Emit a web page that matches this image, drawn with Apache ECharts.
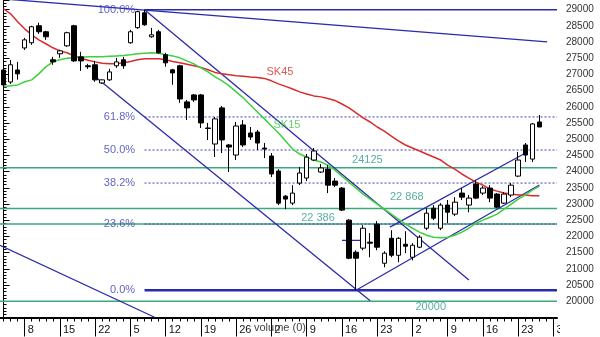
<!DOCTYPE html>
<html><head><meta charset="utf-8">
<script src="https://cdn.jsdelivr.net/npm/echarts@6/dist/echarts.min.js"></script>
<style>html,body{margin:0;padding:0;background:#fff}#c{width:600px;height:337px}</style>
</head><body><div id="c"></div>
<script>
// ---------- data ----------
const dates = [
 '2008-12-03','2008-12-04','2008-12-05',
 '2008-12-08','2008-12-09','2008-12-10','2008-12-11','2008-12-12',
 '2008-12-15','2008-12-16','2008-12-17','2008-12-18','2008-12-19',
 '2008-12-22','2008-12-23','2008-12-29','2008-12-30','2009-01-02',
 '2009-01-05','2009-01-06','2009-01-07','2009-01-08','2009-01-09',
 '2009-01-12','2009-01-13','2009-01-14','2009-01-15','2009-01-16',
 '2009-01-19','2009-01-20','2009-01-21','2009-01-22','2009-01-23',
 '2009-01-26','2009-01-27','2009-01-28','2009-01-29','2009-01-30',
 '2009-02-02','2009-02-03','2009-02-04','2009-02-05','2009-02-06',
 '2009-02-09','2009-02-10','2009-02-11','2009-02-12','2009-02-13',
 '2009-02-16','2009-02-17','2009-02-18','2009-02-19','2009-02-20',
 '2009-02-23','2009-02-24','2009-02-25','2009-02-26','2009-02-27',
 '2009-03-02','2009-03-03','2009-03-04','2009-03-05','2009-03-06',
 '2009-03-09','2009-03-10','2009-03-11','2009-03-12','2009-03-13',
 '2009-03-16','2009-03-17','2009-03-18','2009-03-19','2009-03-20',
 '2009-03-23','2009-03-24','2009-03-25','2009-03-26','2009-03-27',
 '2009-03-30'
];
const opens = [27140,26770,27140,27820,27980,28505,28320,27455,27640,27885,
 28505,27545,27270,27300,26740,26835,27270,27455,27980,28445,
 28905,28165,28320,27610,27145,27270,26155,26370,26370,25350,
 24855,25970,24825,24515,25445,25195,25225,24730,24485,24020,
 23245,23030,23650,23805,24360,23990,24080,23710,23495,22505,
 21515,21640,21825,22380,21175,21945,21420,21760,21360,21670,
 22255,22875,22255,22970,22690,23340,22970,23620,23340,23495,
 23310,23030,23280,23865,24825,24390,25535];
const closes = [26680,27300,27020,28070,28475,28320,28165,27390,27730,28290,
 27420,27420,27240,26835,26835,27080,27390,27270,28320,28940,
 28535,28225,27670,27360,27050,26245,25970,26215,25505,25335,
 25630,24980,24760,25410,24825,25070,24885,24700,23930,23030,
 23155,23340,23960,24450,24640,24115,23585,23585,22815,21330,
 21330,22255,21795,21670,21485,21420,21945,21700,21730,21980,
 22720,22565,22970,22750,23060,23215,23185,23185,23495,23185,
 22905,23310,23585,24360,24515,25475,25380];
const lows = [26590,26710,26840,27760,27915,28255,28070,27300,27515,27855,
 27390,27110,27175,26775,26710,26805,27205,27175,27950,28410,
 28505,28135,27640,27240,26680,26125,25595,26155,25350,24980,
 24455,24575,23990,24360,24760,24980,24670,24420,23835,22970,
 22845,22970,23590,23710,24330,23960,23340,23525,22785,21300,
 20340,21575,21360,21575,21050,21360,21205,21485,21265,21640,
 22195,22505,22195,22410,22630,23125,22750,23155,23280,23060,
 22875,23000,23215,23835,24300,24300,25380];
const highs = [27200,27450,27390,28130,28505,28600,28350,27545,27765,28320,
 28535,27700,27330,27420,26850,27175,27515,27545,28380,28970,
 29000,28440,28380,27670,27175,27300,26215,26400,26400,25505,
 25690,26030,24855,25535,25595,25380,25290,24885,24575,24080,
 23280,23585,24145,24545,24730,24235,24205,23805,23525,22535,
 21575,22350,22105,22475,21545,22195,21980,22165,21795,22040,
 22875,22970,23030,23125,23215,23495,23280,23740,23555,23585,
 23340,23370,23650,24610,24885,25505,25750];
const sk15 = [26620,26650,26680,26775,26835,27020,27235,27390,27455,27500,
 27515,27530,27545,27545,27545,27560,27575,27590,27610,27640,
 27655,27670,27655,27610,27575,27515,27420,27330,27205,27080,
 26925,26805,26650,26465,26280,26060,25845,25630,25410,25195,
 24950,24700,24545,24455,24360,24300,24205,24050,23865,23680,
 23495,23310,23155,23000,22845,22690,22535,22380,22255,22135,
 22040,21980,21965,21980,22040,22135,22255,22410,22505,22595,
 22690,22845,23000,23155,23280,23430,23555];
const sk45 = [29030,28875,28630,28410,28225,28070,27950,27825,27730,27670,
 27575,27500,27440,27390,27345,27330,27330,27360,27405,27455,
 27485,27485,27485,27455,27405,27360,27315,27270,27220,27145,
 27065,27020,26990,26960,26945,26925,26910,26880,26805,26710,
 26635,26555,26465,26400,26340,26310,26260,26200,26090,25970,
 25815,25660,25535,25380,25255,25100,24950,24825,24730,24640,
 24545,24455,24360,24205,24080,23930,23805,23680,23585,23465,
 23400,23340,23310,23280,23280,23260,23260];
// Fibonacci retracement levels (value) and names
const fibLevels = [29000, 25690, 24670, 23650, 22385, 20340];
const fibNames  = ['100.0%','61.8%','50.0%','38.2%','23.6%','0.0%'];
const fibStartIndex = 20;
// horizontal support/resistance levels
const levelValues = [24125, 22868, 22386, 20000];
const levelNames  = ['24125','22 868','22 386','20000'];
// trend lines: [[index, value], [index, value]]
const trendLines = [
 [[-0.5, 29340], [77.1, 28010]],
 [[20, 29000], [66, 20656]],
 [[13, 26930], [52, 20015]],
 [[-0.5, 21730], [21.5, 19500]],
 [[50, 20340], [76, 23590]],
 [[54.8, 22290], [74.3, 24610]],
 [[48, 21880], [51, 21880]]
];
const yTicks = {min: 19500, max: 29300, step: 500};

// ---------- chart ----------
const FONT = '"Liberation Sans", Arial, sans-serif';
const LAST = dates.length - 0.5;
const BLUE = '#2a2aad';
const GREEN_LVL = '#3da87e';
const weekTick = (i) => i >= 3 && (i - 3) % 5 === 0;
const candleData = opens.map((o, i) => [o, closes[i], lows[i], highs[i]]);

function seg(pts, style, z) {
  return {type: 'line', xAxisIndex: 2, yAxisIndex: 0, data: pts, symbol: 'none',
          silent: true, animation: false, lineStyle: style, z: z || 2, clip: true};
}
const series = [];
levelValues.forEach(v => series.push(seg([[-0.5, v], [LAST, v]], {color: GREEN_LVL, width: 1.5}, 1)));
fibLevels.forEach((v, k) => {
  let st;
  if (k === 0) st = {color: BLUE, width: 1.5};
  else if (k === fibLevels.length - 1) st = {color: BLUE, width: 2.5};
  else st = {color: '#3c3cbc', width: 1, type: [2, 2]};
  series.push(seg([[fibStartIndex, v], [LAST, v]], st, 2));
});
trendLines.forEach(p => series.push(seg(p, {color: BLUE, width: 1.3}, 3)));
series.push({type: 'line', xAxisIndex: 0, data: sk45, symbol: 'none', silent: true,
  lineStyle: {color: '#d92b2b', width: 1.5}, z: 4});
series.push({type: 'line', xAxisIndex: 0, data: sk15, symbol: 'none', silent: true,
  lineStyle: {color: '#3fd03f', width: 1.5}, z: 4});
series.push({type: 'candlestick', xAxisIndex: 0, data: candleData, barWidth: 5, z: 6,
  itemStyle: {color: '#fff', color0: '#000', borderColor: '#000', borderColor0: '#000', borderWidth: 1}});

// text labels anchored in data space
const lbl = (x, y, text, color, position, distance) => ({
  value: [x, y],
  label: {show: true, formatter: text, color: color, position: position, distance: distance,
          fontSize: 11, fontFamily: FONT}
});
const labelData = [];
fibLevels.forEach((v, k) => labelData.push(lbl(fibStartIndex, v, fibNames[k], '#3a3ab4', 'left', 9)));
const lvlPos = [[51.6, 'top', 2], [57.2, 'top', 5], [44.6, 'top', 0], [60.6, 'bottom', 0]];
levelValues.forEach((v, k) => labelData.push(lbl(lvlPos[k][0], v, levelNames[k], '#2f9a88', lvlPos[k][1], lvlPos[k][2])));
labelData.push(lbl(39.2, 27080, 'SK45', '#d92b2b', 'inside', 0));
labelData.push(lbl(40.2, 25440, 'SK15', '#3fc43f', 'inside', 0));
series.push({type: 'scatter', xAxisIndex: 2, data: labelData, symbol: 'circle', symbolSize: 1,
  itemStyle: {color: 'rgba(0,0,0,0)'}, silent: true, z: 8});

const chart = echarts.init(document.getElementById('c'));
chart.setOption({
  animation: false,
  backgroundColor: '#fff',
  grid: {left: 0, right: 43, top: 0, bottom: 19.5},
  xAxis: [
    {type: 'category', data: dates, boundaryGap: true, position: 'bottom',
     axisLine: {show: false},
     axisTick: {show: true, alignWithLabel: true, interval: weekTick, length: 19, lineStyle: {color: '#000'}},
     axisLabel: {show: true, interval: weekTick, formatter: v => String(+v.slice(8)), align: 'left',
                 padding: [0, 0, 0, 3], margin: 7, color: '#111', fontSize: 11, fontFamily: FONT},
     splitLine: {show: false}},
    {type: 'category', data: dates, boundaryGap: true, position: 'bottom',
     axisLine: {show: true, lineStyle: {color: '#000', width: 2}},
     axisTick: {show: true, alignWithLabel: true, interval: 0, length: 4, lineStyle: {color: '#000'}},
     axisLabel: {show: false}, splitLine: {show: false}},
    {type: 'value', min: -0.5, max: LAST, show: false}
  ],
  yAxis: {type: 'value', position: 'right', min: yTicks.min, max: yTicks.max, interval: yTicks.step,
    axisLine: {show: true, lineStyle: {color: '#000', width: 1}},
    axisTick: {show: true, length: 6, lineStyle: {color: '#000'}},
    minorTick: {show: true, splitNumber: 5, length: 3, lineStyle: {color: '#000'}},
    axisLabel: {margin: 9, color: '#333', fontSize: 10, fontFamily: FONT,
      formatter: v => (v >= 20000 && v <= 29000 && v % 500 === 0) ? String(v) : ''},
    splitLine: {show: false}, minorSplitLine: {show: false}},
  series: series,
  graphic: [
    {type: 'text', left: 254, top: 322, z: 10,
     style: {text: 'volume (0)', fill: '#444', fontSize: 11, fontFamily: FONT}},
    {type: 'rect', shape: {x: 560, y: 321, width: 40, height: 16}, style: {fill: '#fff'}, z: 10}
  ]
});
</script></body></html>
